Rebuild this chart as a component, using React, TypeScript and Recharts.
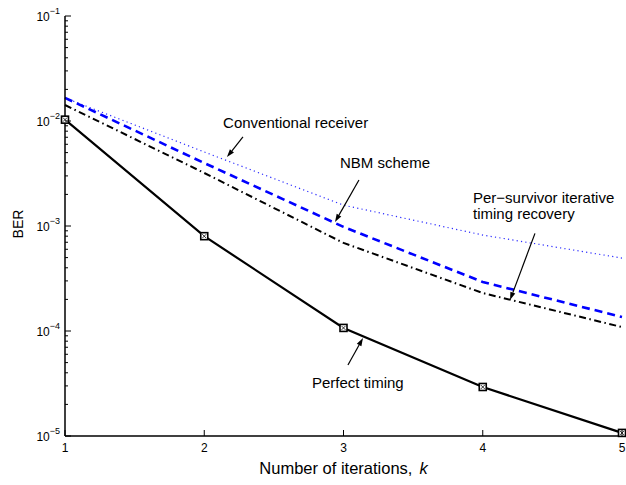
import React from 'react';
import { LineChart, Line, XAxis, YAxis, ReferenceLine, ReferenceDot } from 'recharts';

// iterations k
const iterations = [1, 2, 3, 4, 5];

// BER values
const perfectTiming = [1.03e-2, 8.0e-4, 1.07e-4, 2.93e-5, 1.07e-5];
const conventionalReceiver = [1.66e-2, 5.07e-3, 1.58e-3, 8.2e-4, 4.95e-4];
const nbmScheme = [1.66e-2, 3.98e-3, 9.8e-4, 2.93e-4, 1.36e-4];
const perSurvivor = [1.42e-2, 3.2e-3, 6.9e-4, 2.3e-4, 1.09e-4];

// y axis ticks
const decadeTicks = [1e-5, 1e-4, 1e-3, 1e-2, 1e-1];
const decadeExponents = ['\u22125', '\u22124', '\u22123', '\u22122', '\u22121'];
const minorSteps = [2, 3, 4, 5, 6, 7, 8, 9];

// annotations, in data coordinates (k, BER)
const annotations = [
  { text: ['Conventional receiver'], k: 2.135, ber: 8.6e-3 },
  { text: ['NBM scheme'], k: 2.975, ber: 3.56e-3 },
  { text: ['Per\u2212survivor iterative', 'timing recovery'], k: 3.93, ber: 1.65e-3 },
  { text: ['Perfect timing'], k: 2.774, ber: 2.86e-5 },
];
const arrows = [
  { from: [2.278, 7.05e-3], to: [2.163, 4.54e-3] },
  { from: [3.111, 2.74e-3], to: [2.939, 1.09e-3] },
  { from: [4.375, 8.5e-4], to: [4.196, 1.97e-4] },
  { from: [3.032, 4.74e-5], to: [3.14, 8.57e-5] },
];

const data = iterations.map((k, i) => ({
  k,
  perfect: perfectTiming[i],
  conventional: conventionalReceiver[i],
  nbm: nbmScheme[i],
  survivor: perSurvivor[i],
}));

const yTicks: number[] = [];
decadeTicks.forEach((d, i) => {
  yTicks.push(d);
  if (i < decadeTicks.length - 1) minorSteps.forEach((m) => yTicks.push(m * d));
});

const FONT = '"Liberation Sans", Arial, Helvetica, sans-serif';

const decadeIndex = (v: number) => decadeTicks.findIndex((d) => Math.abs(d - v) / d < 1e-6);

const LeftYTick = (p: any) => {
  const { x, y, payload } = p;
  const idx = decadeIndex(payload.value);
  const major = idx >= 0;
  return (
    <g>
      <line x1={x} x2={x + (major ? 6 : 3)} y1={y} y2={y} stroke="#000" strokeWidth={1} />
      {major && (
        <text x={x - 5} y={y + 4.5} textAnchor="end" fontSize={12} fontFamily={FONT} fill="#000">
          10<tspan dy={-6.5} fontSize={9}>{decadeExponents[idx]}</tspan>
        </text>
      )}
    </g>
  );
};

const RightYTick = (p: any) => {
  const { x, y, payload } = p;
  const major = decadeIndex(payload.value) >= 0;
  return <line x1={x} x2={x - (major ? 6 : 3)} y1={y} y2={y} stroke="#000" strokeWidth={1} />;
};

const BottomXTick = (p: any) => {
  const { x, y, payload } = p;
  return (
    <g>
      <line x1={x} x2={x} y1={y} y2={y - 6} stroke="#000" strokeWidth={1} />
      <text x={x} y={y + 15.5} textAnchor="middle" fontSize={12} fontFamily={FONT} fill="#000">
        {payload.value}
      </text>
    </g>
  );
};

const TopXTick = (p: any) => {
  const { x, y } = p;
  return <line x1={x} x2={x} y1={y} y2={y + 6} stroke="#000" strokeWidth={1} />;
};

const SquareDot = (p: any) => {
  const { cx, cy, index } = p;
  return (
    <g key={`sq-${index}`}>
      <rect x={cx - 3.5} y={cy - 3.5} width={7} height={7} fill="#fff" stroke="#000" strokeWidth={1.6} />
      <path d={`M${cx - 2} ${cy - 2}L${cx + 2} ${cy + 2}M${cx + 2} ${cy - 2}L${cx - 2} ${cy + 2}`} stroke="#000" strokeWidth={0.8} />
    </g>
  );
};

const Arrow = (p: any) => {
  const { x1, y1, x2, y2 } = p;
  const a = Math.atan2(y2 - y1, x2 - x1);
  const L = 8;
  const W = 2.6;
  const bx = x2 - L * Math.cos(a);
  const by = y2 - L * Math.sin(a);
  const nx = -Math.sin(a) * W;
  const ny = Math.cos(a) * W;
  return (
    <g>
      <line x1={x1} y1={y1} x2={bx} y2={by} stroke="#000" strokeWidth={1.2} />
      <polygon points={`${x2},${y2} ${bx + nx},${by + ny} ${bx - nx},${by - ny}`} fill="#000" />
    </g>
  );
};

const makeNote = (lines: string[]) => (p: any) => (
  <text x={p.cx} y={p.cy} fontSize={15} fontFamily={FONT} fill="#000">
    {lines.map((t, i) => (
      <tspan key={t} x={p.cx} dy={i === 0 ? 0 : 16}>
        {t}
      </tspan>
    ))}
  </text>
);

const XTitle = (p: any) => {
  const vb = p.viewBox;
  return (
    <text x={vb.x + vb.width / 2} y={vb.y + 38} textAnchor="middle" fontSize={16.5} fontFamily={FONT} fill="#000">
      Number of iterations,<tspan dx={7} fontStyle="italic">k</tspan>
    </text>
  );
};

const YTitle = (p: any) => {
  const vb = p.viewBox;
  const cx = vb.x + 23;
  const cy = vb.y + vb.height / 2 - 2;
  return (
    <text x={cx} y={cy} transform={`rotate(-90 ${cx} ${cy})`} textAnchor="middle" fontSize={14} fontFamily={FONT} fill="#000">
      BER
    </text>
  );
};

export default function App() {
  return (
    <div style={{ position: 'absolute', left: 0, top: 0, width: 626, height: 485, background: '#fff' }}>
      <LineChart width={626} height={485} data={data} margin={{ top: 16, right: 4, bottom: 0, left: 0 }}>
        <XAxis
          dataKey="k"
          type="number"
          domain={[1, 5]}
          ticks={iterations}
          height={49}
          tickSize={0}
          tickMargin={0}
          interval={0}
          tick={<BottomXTick />}
          tickLine={false}
          axisLine={{ stroke: '#000', strokeWidth: 1.5 }}
          label={XTitle}
        />
        <XAxis
          xAxisId="top"
          orientation="top"
          type="number"
          domain={[1, 5]}
          ticks={iterations}
          height={0}
          tickSize={0}
          tickMargin={0}
          interval={0}
          tick={<TopXTick />}
          tickLine={false}
          axisLine={{ stroke: '#000', strokeWidth: 1.5 }}
        />
        <YAxis
          scale="log"
          type="number"
          domain={[1e-5, 1e-1]}
          ticks={yTicks}
          width={65}
          tickSize={0}
          tickMargin={0}
          interval={0}
          tick={<LeftYTick />}
          tickLine={false}
          axisLine={{ stroke: '#000', strokeWidth: 1.5 }}
          label={YTitle}
        />
        <YAxis
          yAxisId="right"
          orientation="right"
          scale="log"
          type="number"
          domain={[1e-5, 1e-1]}
          ticks={yTicks}
          width={0}
          tickSize={0}
          tickMargin={0}
          interval={0}
          tick={<RightYTick />}
          tickLine={false}
          axisLine={{ stroke: '#000', strokeWidth: 1.5 }}
        />
        <Line
          dataKey="conventional"
          stroke="#2b2bff"
          strokeWidth={1.2}
          strokeDasharray="1.2 3.2"
          dot={false}
          activeDot={false}
          isAnimationActive={false}
        />
        <Line
          dataKey="nbm"
          stroke="#0000ff"
          strokeWidth={2.6}
          strokeDasharray="8 5"
          dot={false}
          activeDot={false}
          isAnimationActive={false}
        />
        <Line
          dataKey="survivor"
          stroke="#000"
          strokeWidth={2}
          strokeDasharray="7 3.5 1.5 3.5"
          dot={false}
          activeDot={false}
          isAnimationActive={false}
        />
        <Line
          dataKey="perfect"
          stroke="#000"
          strokeWidth={2.2}
          dot={SquareDot}
          activeDot={false}
          isAnimationActive={false}
        />
        {arrows.map((a, i) => (
          <ReferenceLine
            key={`arrow-${i}`}
            segment={[
              { x: a.from[0], y: a.from[1] },
              { x: a.to[0], y: a.to[1] },
            ]}
            shape={Arrow}
          />
        ))}
        {annotations.map((n, i) => (
          <ReferenceDot key={`note-${i}`} x={n.k} y={n.ber} r={0} shape={makeNote(n.text)} />
        ))}
      </LineChart>
    </div>
  );
}
